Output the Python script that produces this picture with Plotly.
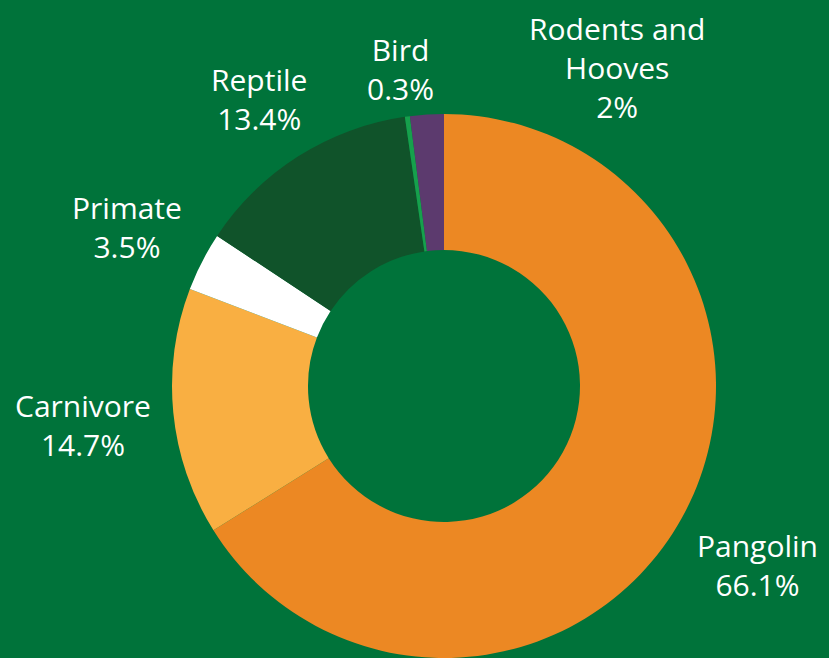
import plotly.graph_objects as go

categories = ["Pangolin", "Carnivore", "Primate", "Reptile", "Bird", "Rodents and<br>Hooves"]
shares = [66.1, 14.7, 3.5, 13.4, 0.3, 2.0]
colors = ["#EC8823", "#F9AF42", "#FFFFFF", "#10532A", "#16A04C", "#5C3A6E"]

W, H = 829, 658
BG = "#00733A"

# label anchor pixels (layout only)
label_px = [(757, 565), (83, 425), (127, 227), (259, 99), (400, 69), (617, 68)]

fig = go.Figure(go.Pie(
    labels=categories,
    values=shares,
    marker=dict(colors=colors, line=dict(width=0)),
    hole=0.5,
    sort=False,
    direction="clockwise",
    rotation=0,
    textinfo="none",
    hoverinfo="label+percent",
    showlegend=False,
    domain=dict(x=[(444 - 275) / W, (444 + 275) / W], y=[0, 1 - 114 / H]),
))

for cat, val, (px, py) in zip(categories, shares, label_px):
    fig.add_annotation(
        x=px / W, y=1 - py / H, xref="paper", yref="paper",
        text=f"{cat}<br>{val:g}%", showarrow=False,
        xanchor="center", yanchor="middle", align="center",
        font=dict(family="Open Sans", size=30, color="white"),
    )

fig.update_layout(
    width=W, height=H,
    margin=dict(l=0, r=0, t=0, b=0),
    paper_bgcolor=BG, plot_bgcolor=BG,
)

fig.write_html(
    "out.html",
    config={"displayModeBar": False},
    post_script="document.body.style.margin='0';document.body.style.background='" + BG + "';",
)
